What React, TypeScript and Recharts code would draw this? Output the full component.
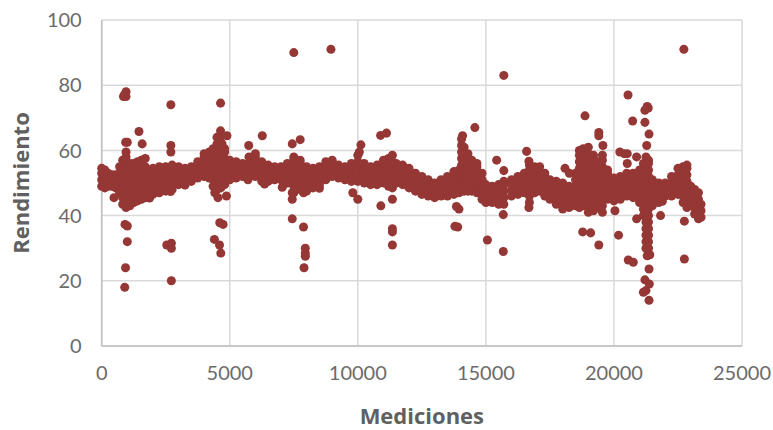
import React from 'react';
import { ScatterChart, Scatter, XAxis, YAxis, ZAxis, CartesianGrid } from 'recharts';

// each column: x first, then the y values read at that x
type Column = number[];

const xTicks = [0, 5000, 10000, 15000, 20000, 25000];
const yTicks = [0, 20, 40, 60, 80, 100];

const columnsA: Column[] = [
  [0, 49, 51, 53, 54.5],
  [120, 48.5, 50.5, 52.5, 54],
  [250, 49, 51, 53],
  [400, 49, 51, 52.5],
  [550, 48.5, 50.5, 52.5],
  [700, 47, 49, 51, 53, 55],
  [820, 43.5, 45.5, 47.5, 49.5, 51.5, 53.5, 55.5, 57],
  [950, 42.5, 44.5, 46.5, 48.5, 50.5, 52.5, 54.5, 56.5, 58],
  [1100, 43, 45, 47, 49, 51, 53, 55, 56],
  [1250, 44, 46, 48, 50, 52, 54, 56],
  [1400, 44.5, 46.5, 48.5, 50.5, 52.5, 54.5, 56.5],
  [1550, 45, 47, 49, 51, 53, 55, 57],
  [1700, 45.5, 47.5, 49.5, 51.5, 53.5, 55, 57.5],
  [1850, 46, 48, 50, 52, 54],
  [2000, 46.5, 48.5, 50.5, 52.5, 54.5],
  [2250, 47, 49, 51, 53, 55],
  [2500, 47.5, 49.5, 51.5, 53.5, 55],
  [2750, 48, 50, 52, 54, 55.5],
  [3000, 49.5, 51.5, 53.5, 55],
  [3250, 49.5, 51.5, 53.5, 54.5],
  [3500, 50.5, 52.5, 54.5, 55],
  [3750, 51.5, 53.5, 55.5, 56.5],
  [4000, 52, 54, 56, 58, 59],
  [4200, 51.5, 53.5, 55.5, 57.5, 59.5],
  [4350, 49, 51, 53, 55, 57, 59, 60.5],
  [4500, 48, 50, 52, 54, 56, 58, 60, 62, 64],
  [4650, 48.5, 50.5, 52.5, 54.5, 56.5, 58.5, 60.5, 62.5, 64.5],
  [4800, 49.5, 51.5, 53.5, 55.5, 57.5, 59.5, 60.5],
  [5000, 51, 53, 55, 57],
  [5250, 51.5, 53.5, 55.5, 56.5],
  [5500, 52, 54, 56],
  [5750, 52, 54, 56, 58],
  [6000, 52, 54, 56, 58, 59],
  [6250, 50.5, 52.5, 54.5, 56.5],
  [6500, 50.5, 52.5, 54.5, 55.5],
  [6750, 51, 53, 55],
  [7000, 51, 53, 55],
  [7250, 50, 52, 54, 56],
  [7500, 47, 49, 51, 53, 55, 57, 58],
  [7750, 48, 50, 52, 54, 56, 57],
  [8000, 47.5, 49.5, 51.5, 53.5, 55],
  [8250, 48.5, 50.5, 52.5, 54.5],
  [8500, 49.5, 51.5, 53.5, 55],
  [8750, 51, 53, 55, 56.5],
  [9000, 52, 54, 56, 57],
  [9250, 51.5, 53.5, 55.5],
  [9500, 51, 53, 55],
  [9750, 50.5, 52.5, 54.5, 56],
  [10000, 50.5, 52.5, 54.5, 56.5, 58.5],
];

const columnsB: Column[] = [
  [10250, 50, 52, 54, 56],
  [10500, 49.5, 51.5, 53.5, 55],
  [10750, 49.5, 51.5, 53.5, 55.5],
  [11000, 50, 52, 54, 56, 57],
  [11200, 49, 51, 53, 55, 57.5],
  [11350, 48.5, 50.5, 52.5, 54.5, 56.5, 58.5],
  [11500, 50, 52, 54, 56],
  [11750, 49.5, 51.5, 53.5, 55.5],
  [12000, 48.5, 50.5, 52.5, 54.5],
  [12250, 47.5, 49.5, 51.5, 53],
  [12500, 46.5, 48.5, 50.5, 52],
  [12750, 46, 48, 50, 51],
  [13000, 45.5, 47.5, 49.5, 50],
  [13250, 46, 48, 50, 51],
  [13500, 46, 48, 50, 52],
  [13750, 46.5, 48.5, 50.5, 52.5, 53.5],
  [13950, 47, 49, 51, 53, 54],
  [14050, 47.5, 49.5, 51.5, 53.5, 55.5, 57.5, 59.5, 61.5, 63.5],
  [14150, 47.5, 49.5, 51.5, 53.5, 55.5, 57.5, 59.5, 61],
  [14300, 47.5, 49.5, 51.5, 53.5, 55.5, 57.5, 59],
  [14450, 47.5, 49.5, 51.5, 53.5, 55.5, 57],
  [14650, 47, 49, 51, 53, 55, 56],
  [14850, 45, 47, 49, 51, 53],
  [15000, 44, 46, 48, 49.5],
  [15250, 44, 46, 48, 49],
  [15500, 43.5, 45.5, 47.5, 49.5],
  [15700, 43.5, 45.5, 47.5, 49.5, 50.5],
  [16000, 46, 48, 50, 51],
  [16250, 46.5, 48.5, 50.5, 52],
  [16500, 47, 49, 51, 53],
  [16700, 44, 46, 48, 50, 52, 54, 55.5],
  [16900, 47, 49, 51, 53, 55],
  [17100, 47.5, 49.5, 51.5, 53.5, 55],
  [17300, 46, 48, 50, 52, 53],
  [17500, 45, 47, 49, 51],
  [17750, 43.5, 45.5, 47.5, 49.5, 50.5],
  [18000, 42, 44, 46, 48, 50],
  [18250, 42.5, 44.5, 46.5, 48.5, 49],
  [18500, 43, 45, 47, 49, 51, 53],
];

const columnsC: Column[] = [
  [18650, 42.5, 44.5, 46.5, 48.5, 50.5, 52.5, 54.5, 56.5, 58.5, 60],
  [18800, 43, 45, 47, 49, 51, 53, 55, 57, 59, 60.5],
  [19000, 41, 43, 45, 47, 49, 51, 53, 55, 57, 59, 61],
  [19200, 41.5, 43.5, 45.5, 47.5, 49.5, 51.5, 53.5, 55.5, 57.5, 58.5],
  [19350, 42.5, 44.5, 46.5, 48.5, 50.5, 52.5, 54.5, 56.5],
  [19550, 41, 43, 45, 47, 49, 51, 53, 55, 57, 58.5],
  [19750, 45, 47, 49, 51, 53, 54],
  [20000, 44.5, 46.5, 48.5, 50.5, 51.5],
  [20250, 45, 47, 49, 51, 52],
  [20500, 46, 48, 50, 52, 53],
  [20750, 45.5, 47.5, 49.5, 51.5, 53],
  [21000, 44, 46, 48, 50, 52, 54],
  [21150, 40, 42, 44, 46, 48, 50, 52, 54, 56],
  [21250, 30, 32, 34, 36, 38, 40, 42, 44, 46, 48, 50, 52, 54, 56, 58],
  [21350, 30, 32, 34, 36, 38, 40, 42, 44, 46, 48, 50, 52, 54, 56, 57],
  [21500, 43, 45, 47, 49, 51],
  [21750, 44, 46, 48, 50],
  [22000, 46, 48, 50],
  [22250, 46, 48, 50, 52],
  [22500, 46.5, 48.5, 50.5, 52.5, 54.5],
  [22700, 44, 46, 48, 50, 52, 54, 55],
  [22850, 42.5, 44.5, 46.5, 48.5, 50.5, 52.5, 54.5, 55.5],
  [23000, 43, 45, 47, 49],
  [23150, 40.5, 42.5, 44.5, 46.5, 48],
  [23300, 39, 41, 43, 45, 47],
  [23400, 39.5, 41.5, 43.5],
];

const outliersX = [
  880, 950, 950, 850, 2700, 7500, 8950, 15700, 22730, 4640, 1455, 1580, 935, 1000, 950, 2700, 2700,
  4640, 4890, 4700, 5740, 6270, 7440, 7750, 480, 7050, 7440, 7440, 7440, 7880, 4610, 4740, 4415, 4540,
  4870, 7880, 9805, 10000, 910, 1000, 1000, 930, 900, 4400, 4600, 4650, 2540, 2720, 2720, 2720, 7950,
  7950, 7950, 7900, 10900, 11350, 11350, 11350, 11350, 13790, 13850, 13950, 14570, 14090, 10890, 11120,
  10120, 10060, 15420, 15700, 16590, 16680, 16680, 15680, 15060, 15680, 13900, 18870, 20730, 21210,
  21340, 21210, 21300, 21370, 21280, 19410, 19410, 19570, 20230, 20400, 20520, 20885, 20520, 18090,
  18260, 18780, 19090, 19410, 20180, 20560, 20755, 21370, 21210, 21380, 21250, 21150, 21370, 21300,
  21400, 22750, 22750, 21820, 20885, 20040, 21890, 20550, 1870, 2690, 3250, 5710, 6360, 8500,
];
const outliersY = [
  77, 78, 76.5, 76.5, 74, 90, 91, 83, 91, 74.5, 65.8, 62, 62.5, 62.5, 59.5, 61.5, 59.5, 66, 64.5, 62,
  61.5, 64.5, 62, 63.3, 45.5, 48.7, 47, 45, 39, 36.5, 37.8, 37.3, 47, 45.5, 46, 47, 47, 45, 37.3, 36.8,
  32, 24, 18, 32.7, 31, 28.5, 31, 31.5, 30, 20, 30, 28.5, 27.5, 24, 43, 45, 36, 35, 31, 36.7, 42.8, 42,
  67, 64.5, 64.6, 65.3, 61.7, 59.5, 57, 53.8, 59.7, 56.7, 42.5, 40.3, 32.5, 29, 36.5, 70.6, 69, 68.6,
  73, 72.3, 73.5, 65, 61.5, 65.5, 64.5, 61.5, 59.5, 59, 59, 58, 56, 54.5, 53, 35, 34.7, 31, 34, 26.4,
  25.7, 23.6, 20.3, 19, 17, 16.5, 14, 27.7, 28, 26.7, 38.3, 40, 39, 41.5, 44.4, 77, 45.4, 47.4, 49.4, 51,
  49.7, 48.4,
];

const points = [
  ...[...columnsA, ...columnsB, ...columnsC].flatMap(([x, ...ys]) => ys.map((y) => ({ x, y }))),
  ...outliersX.map((x, i) => ({ x, y: outliersY[i] })),
];

const tickStyle = { fill: '#6b6b6b', fontSize: 20, fontFamily: 'Lato' };
const titleStyle = { fill: '#606060', fontSize: 22, fontWeight: 'bold', fontFamily: 'Open Sans', textAnchor: 'middle' as const };

const App: React.FC = () => (
  <div style={{ position: 'absolute', left: 0, top: 0, width: 773, height: 430, background: '#fff' }}>
    <ScatterChart width={773} height={430} margin={{ top: 20, right: 31, bottom: 24, left: 41.7 }}>
      <CartesianGrid stroke="#d9d9d9" strokeWidth={1.5} horizontalValues={yTicks} verticalValues={xTicks} />
      <XAxis
        type="number"
        dataKey="x"
        domain={[0, 25000]}
        ticks={xTicks}
        height={60}
        axisLine={{ stroke: '#bfbfbf', strokeWidth: 1.5 }}
        tickLine={false}
        tick={tickStyle}
        tickMargin={14}
        label={{ value: 'Mediciones', position: 'insideBottom', offset: -18, style: titleStyle }}
      />
      <YAxis
        type="number"
        dataKey="y"
        domain={[0, 100]}
        ticks={yTicks}
        width={60}
        axisLine={{ stroke: '#bfbfbf', strokeWidth: 1.5 }}
        tickLine={false}
        tick={tickStyle}
        tickMargin={14}
        label={{ value: 'Rendimiento', angle: -90, position: 'insideLeft', offset: 0, dx: -20, style: titleStyle }}
      />
      <ZAxis range={[33, 33]} />
      <Scatter data={points} fill="#953735" isAnimationActive={false} />
    </ScatterChart>
  </div>
);

export default App;
